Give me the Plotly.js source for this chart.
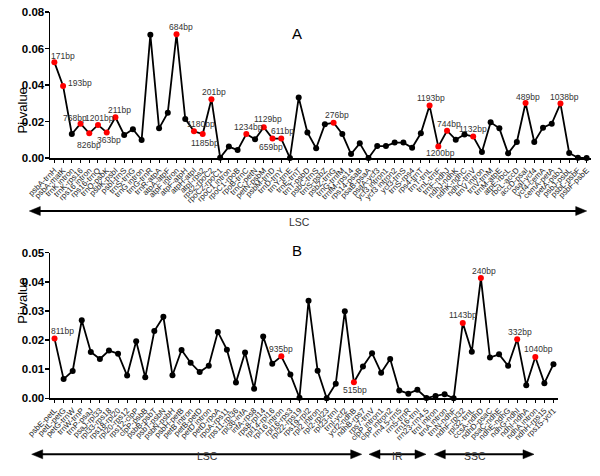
<!DOCTYPE html>
<html>
<head>
<meta charset="utf-8">
<script src="https://cdn.plot.ly/plotly-3.0.1.min.js"></script>
<style>html,body{margin:0;padding:0;background:#fff;}#chart{width:600px;height:476px;}</style>
</head>
<body>
<div id="chart"></div>
<script>
// ---------- Panel A data ----------
const catsA = ["psbA-trnH","psbA-matK","trnK intron","trnK-rps16","rps16 intron","rps16-trnQ","trnQ-psbK","psbK-psbI","psbI-trnS","trnS-trnG","trnG intron","trnG-trnR","trnR-atpA","atpA-atpF","atpF intron","atpF-atpH","atpH-atpI","atpI-rps2","rps2-rpoC2","rpoC2-rpoC1","rpoC1 intron","rpoC1-rpoB","rpoB-trnC","trnC-petN","petN-psbM","psbM-trnD","trnD-trnY","trnY-trnE","trnE-trnT","trnT-psbD","psbC-trnS","trnS-psbZ","psbZ-trnG","trnG-trnfM","trnfM-rps14","rps14-psaB","psaB-psaA","psaA-ycf3","ycf3 intron1","ycf3 intron2","ycf3-trnS","trnS-rps4","rps4-trnT","trnT-trnL","trnL-trnF","trnF-ndhJ","ndhJ-ndhK","ndhK-ndhC","ndhC-trnV","trnV intron","trnV-trnM","trnM-atpE","atpE-rbcL","rbcL-accD","accD-psaI","psaI-ycf4","ycf4-cemA","cemA-petA","petA-psbJ","psbJ-psbL","psbL-psbF","psbF-psbE"];
const piA = [0.0526,0.0396,0.0132,0.0189,0.0136,0.0182,0.0141,0.0224,0.0127,0.0158,0.0099,0.0677,0.0163,0.0249,0.0679,0.0215,0.0147,0.0132,0.0323,0.0002,0.0063,0.0044,0.0132,0.0103,0.0169,0.0107,0.0107,0.0000,0.0332,0.0141,0.0054,0.0185,0.0194,0.0132,0.0022,0.0081,0.0000,0.0066,0.0066,0.0085,0.0085,0.0057,0.0136,0.0288,0.0063,0.0150,0.0101,0.0130,0.0118,0.0033,0.0196,0.0163,0.0026,0.0088,0.0302,0.0088,0.0167,0.0189,0.0299,0.0028,0.0002,0.0000];
const bpA = ["171bp","193bp","","768bp","826bp","1201bp","363bp","211bp","","","","","","","684bp","","1180bp","1185bp","201bp","","","","1234bp","","1129bp","659bp","611bp","","","","","","276bp","","","","","","","","","","","1193bp","1200bp","744bp","","","1132bp","","","","","","489bp","","","","1038bp","","",""];
// label offsets (px) for the bp labels, in the same order as the non-empty bpA entries
const offA = [[9,-6],[17,-3],[-5.7,-6],[0,12],[1.3,-7],[2.7,8],[3.7,-7],[4,-7.6],[6.7,-7],[2.3,9],[3,-7],[1.7,-7],[4.3,-8.6],[-1.7,8.6],[1.4,-7.4],[3,-7.4],[1.4,-7.4],[2.4,6],[2,-6.7],[0,-8],[2.4,-6.3],[3.7,-7]];

// ---------- Panel B data ----------
const catsB = ["psbE-petL","petL-petG","petG-trnW","trnW-trnP","trnP-psaJ","psaJ-rpl33","rpl33-rps18","rps18-rpl20","rpl20-rps12","rps12-clpP","clpP-psbB","psbB-psbT","psbT-psbN","psbN-psbH","psbH-petB","petB intron","petB-petD","petD intron","petD-rpoA","rpoA-rps11","rps11-rpl36","rpl36-infA","infA-rps8","rps8-rpl14","rpl14-rpl16","rpl16 intron","rpl16-rps3","rpl22-rps19","rps19-rpl2","rpl2 intron","rpl2-rpl23","rpl23-trnI","trnI-ycf2","ycf2-ndhB","ndhB-rps7","rps7-trnV","clpP intron1","clpP intron2","rrn4.5-rrn5","rrn5-trnR","rrn16-trnI","rrn23-rrn4.5","trnI intron","trnA intron","trnN-ndhF","ndhF-rpl32","rpl32-trnL","ccsA-ndhD","ndhD-psaC","psaC-ndhE","ndhE-ndhG","ndhG-ndhI","ndhI-ndhA","ndhA intron","ndhH-rps15","rps15-ycf1"];
const piB = [0.0205,0.0066,0.0094,0.0268,0.0159,0.0135,0.0164,0.0153,0.0078,0.0196,0.0072,0.0231,0.0280,0.0079,0.0166,0.0122,0.0090,0.0112,0.0228,0.0167,0.0054,0.0157,0.0033,0.0212,0.0119,0.0144,0.0082,0.0002,0.0335,0.0095,0.0000,0.0050,0.0299,0.0055,0.0109,0.0155,0.0088,0.0135,0.0027,0.0016,0.0029,0.0001,0.0008,0.0014,0.0000,0.0259,0.0160,0.0413,0.0140,0.0151,0.0112,0.0203,0.0045,0.0142,0.0052,0.0117];
const bpB = ["811bp","","","","","","","","","","","","","","","","","","","","","","","","","935bp","","","","","","","","515bp","","","","","","","","","","","","1143bp","","240bp","","","","332bp","","1040bp","",""];
const offB = [[8.3,-8],[0,-7.3],[1,8],[0,-8.3],[3.4,-7.3],[3.3,-7.3],[3.3,-7.7]];

// ---------- helpers (pixel -> paper) ----------
const W = 600, H = 476;
const px = x => x / W;
const py = y => 1 - y / H;
const FONT = "Liberation Sans, Arial, sans-serif";

function idx(a){ return a.map((_, i) => i); }

function trace(cats, vals, bps, xa, ya){
  return {
    x: idx(cats), y: vals, xaxis: xa, yaxis: ya,
    type: 'scatter', mode: 'lines+markers', cliponaxis: false,
    line: {color: '#000', width: 1.8},
    marker: {size: 6, color: bps.map(b => b ? '#ff0000' : '#000')},
    hoverinfo: 'x+y', showlegend: false
  };
}

function bpAnnots(vals, bps, offs, xa, ya){
  const out = []; let k = 0;
  bps.forEach((b, i) => {
    if (!b) return;
    const o = offs[k++];
    out.push({x: i, y: vals[i], xref: xa, yref: ya, text: b, showarrow: false,
      xshift: o[0], yshift: -o[1], font: {family: FONT, size: 8.5, color: '#333'}});
  });
  return out;
}

function arrowShapes(x1, x2, y){
  const L = 11, h = 4.5;
  return [
    {type: 'line', xref: 'paper', yref: 'paper', x0: px(x1 + L - 1), x1: px(x2 - L + 1), y0: py(y), y1: py(y), line: {color: '#000', width: 2}},
    {type: 'path', xref: 'paper', yref: 'paper', path: `M ${px(x1)},${py(y)} L ${px(x1 + L)},${py(y - h)} L ${px(x1 + L)},${py(y + h)} Z`, fillcolor: '#000', line: {color: '#000', width: 0.5}},
    {type: 'path', xref: 'paper', yref: 'paper', path: `M ${px(x2)},${py(y)} L ${px(x2 - L)},${py(y - h)} L ${px(x2 - L)},${py(y + h)} Z`, fillcolor: '#000', line: {color: '#000', width: 0.5}}
  ];
}

function xax(cats, dom, rng){
  return {domain: dom, range: rng, tickmode: 'array', tickvals: idx(cats), ticktext: cats,
    tickangle: -45, tickfont: {family: FONT, size: 8, color: '#222'},
    showline: true, linecolor: '#000', linewidth: 1.5, ticks: 'outside', ticklen: 3, tickwidth: 1, tickcolor: '#000',
    showgrid: false, zeroline: false, fixedrange: true};
}
function yax(dom, rng, dt, anchor){
  return {domain: dom, range: rng, dtick: dt, tick0: 0, tickformat: '.2f', anchor: anchor,
    tickfont: {family: FONT, size: 11.5, color: '#000', weight: 'bold'}, ticklabelstandoff: -2,
    showline: true, linecolor: '#000', linewidth: 1.5, ticks: 'outside', ticklen: 4, tickwidth: 1.5, tickcolor: '#000',
    showgrid: false, zeroline: false, fixedrange: true};
}

const annotations = [].concat(
  bpAnnots(piA, bpA, offA, 'x', 'y'),
  bpAnnots(piB, bpB, offB, 'x2', 'y2'),
  [
    {xref: 'paper', yref: 'paper', x: px(12.7), y: py(85.2), text: 'Pi value', textangle: -90, showarrow: false, font: {family: FONT, size: 13, color: '#000'}},
    {xref: 'paper', yref: 'paper', x: px(12.7), y: py(325.5), text: 'Pi value', textangle: -90, showarrow: false, font: {family: FONT, size: 13, color: '#000'}},
    {xref: 'paper', yref: 'paper', x: px(296.7), y: py(23.3), text: 'A', showarrow: false, font: {family: FONT, size: 15, color: '#000'}},
    {xref: 'paper', yref: 'paper', x: px(296.7), y: py(250.5), text: 'B', showarrow: false, font: {family: FONT, size: 15, color: '#000'}},
    {xref: 'paper', yref: 'paper', x: px(299), y: py(221.7), text: 'LSC', showarrow: false, font: {family: FONT, size: 10.5, color: '#333'}},
    {xref: 'paper', yref: 'paper', x: px(195.5), y: py(464), text: 'LSC', showarrow: false, font: {family: FONT, size: 10.5, color: '#333'}},
    {xref: 'paper', yref: 'paper', x: px(397.5), y: py(464), text: 'IR', showarrow: false, font: {family: FONT, size: 10.5, color: '#333'}},
    {xref: 'paper', yref: 'paper', x: px(488), y: py(463.5), text: 'SSC', showarrow: false, font: {family: FONT, size: 10.5, color: '#333'}}
  ]
);

const shapes = [].concat(
  arrowShapes(29.3, 586.7, 211),
  arrowShapes(31.7, 361.7, 454.3),
  arrowShapes(369, 426, 454.3),
  arrowShapes(434.3, 534, 454.3)
);

const layout = {
  width: W, height: H, margin: {l: 0, r: 0, t: 0, b: 0},
  paper_bgcolor: '#fff', plot_bgcolor: '#fff', showlegend: false,
  xaxis: Object.assign(xax(catsA, [px(50), px(591)], [-0.5, 61.5]), {anchor: 'y'}),
  yaxis: yax([py(158.1), py(12.2)], [0, 0.08], 0.02, 'x'),
  xaxis2: Object.assign(xax(catsB, [px(50), px(558)], [-0.5, 55.5]), {anchor: 'y2'}),
  yaxis2: yax([py(398.3), py(252.7)], [0, 0.05], 0.01, 'x2'),
  annotations: annotations, shapes: shapes
};

Plotly.newPlot('chart', [trace(catsA, piA, bpA, 'x', 'y'), trace(catsB, piB, bpB, 'x2', 'y2')], layout, {displayModeBar: false, staticPlot: true});
</script>
</body>
</html>
